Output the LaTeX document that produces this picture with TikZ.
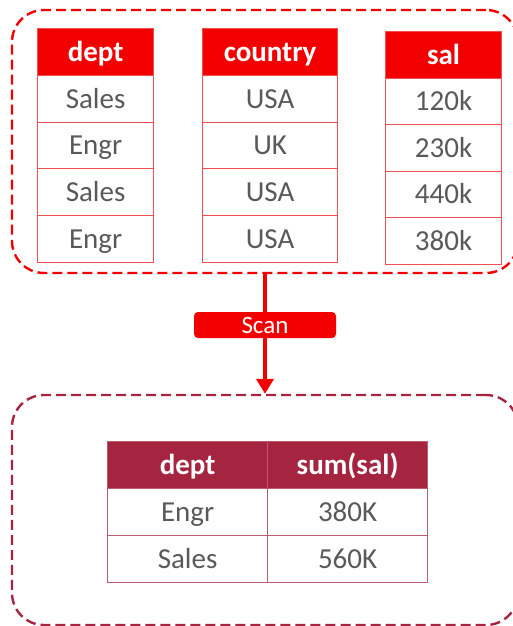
\documentclass[tikz,border=0pt]{standalone}
\usepackage{fontspec}
\setmainfont{Carlito}
\usetikzlibrary{arrows.meta, positioning}
\definecolor{scanred}{RGB}{242, 0, 0}
\definecolor{cellred}{RGB}{240, 80, 80}
\definecolor{aggred}{RGB}{165, 36, 63}
\definecolor{textgray}{RGB}{89, 89, 89}

\tikzset{
  cell/.style={draw=cellred, line width=1.2pt, anchor=north west, inner sep=0pt,
    minimum height=46.75pt, text=textgray, text height=18.7pt, text depth=0pt,
    font=\fontsize{29}{34}\selectfont},
  head/.style={cell, fill=scanred, text=white, font=\fontsize{29}{34}\selectfont\bfseries},
  aggcell/.style={cell, draw=aggred!75, minimum width=160pt, minimum height=47pt},
  agghead/.style={aggcell, fill=aggred, text=white, font=\fontsize{29}{34}\selectfont\bfseries},
  groupbox/.style={draw, dashed, dash pattern=on 10pt off 5pt, line width=2.4pt,
    rounded corners=32pt, minimum width=506pt},
}

\begin{document}
\begin{tikzpicture}[x=1pt, y=-1pt, > = Triangle]
	\useasboundingbox (0,0) rectangle (513,626);

	% dashed group boxes
	\node[groupbox, draw=scanred, minimum height=263pt] (src) at (265,141.5) {};
	\node[groupbox, draw=aggred, minimum height=230pt] (dst) at (265,510) {};

	% input columns
	\node[head, minimum width=116pt] (dept) at (37,28) {dept};
	\foreach \v [count=\i] in {Sales, Engr, Sales, Engr}
		\node[cell, minimum width=116pt] (dept-\i) at (37,28+46.75*\i) {\v};

	\node[head, minimum width=135pt] (country) at (202,28) {country};
	\foreach \v [count=\i] in {USA, UK, USA, USA}
		\node[cell, minimum width=135pt] (country-\i) at (202,28+46.75*\i) {\v};

	\node[head, minimum width=116pt, minimum height=46.5pt] (sal) at (385,31) {sal};
	\foreach \v [count=\i] in {120k, 230k, 440k, 380k}
		\node[cell, minimum width=116pt, minimum height=46.5pt] (sal-\i) at (385,31+46.5*\i) {\v};

	% scan step
	\node[fill=scanred, text=white, rounded corners=4pt, minimum width=142pt, minimum height=26pt,
		inner sep=0pt, text height=16pt, text depth=0pt, font=\fontsize{25}{30}\selectfont] (scan) at (265,325) {Scan};
	\draw[scanred, line width=4pt] (src.south) -- (scan.north);
	\draw[->, scanred, line width=4pt, >={Triangle[width=17pt, length=15pt]}] (scan.south) -- (dst.north);

	% aggregated result
	\node[agghead] (rdept) at (107,441) {dept};
	\node[agghead] (rsum) at (267,441) {sum(sal)};
	\node[aggcell] (rdept-1) at (107,488) {Engr};
	\node[aggcell] (rsum-1) at (267,488) {380K};
	\node[aggcell] (rdept-2) at (107,535) {Sales};
	\node[aggcell] (rsum-2) at (267,535) {560K};
\end{tikzpicture}
\end{document}
